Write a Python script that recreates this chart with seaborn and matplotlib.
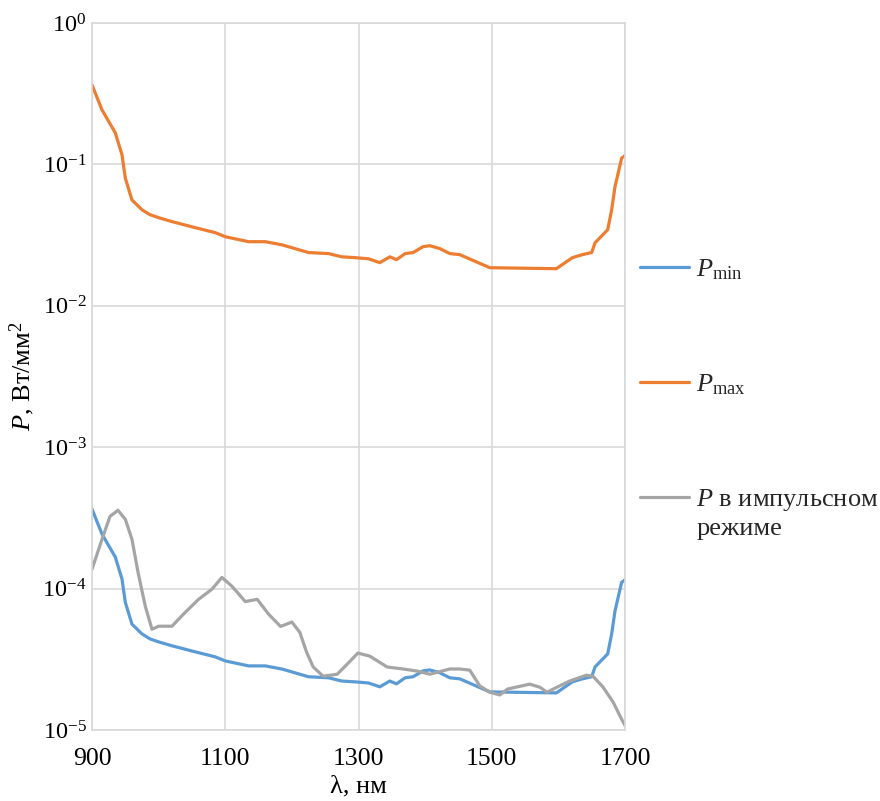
import numpy as np
import pandas as pd
import matplotlib
matplotlib.use("Agg")
import matplotlib.pyplot as plt
import seaborn as sns
from matplotlib.ticker import LogLocator, LogFormatterSciNotation, FixedLocator, NullLocator
from matplotlib.lines import Line2D
from matplotlib.legend_handler import HandlerLine2D

# ---- data ----
wl_max = [900, 915, 935, 945, 950, 960, 975, 987, 1000, 1020, 1050, 1085, 1100, 1135, 1160,
          1185, 1225, 1255, 1275, 1295, 1315, 1332, 1347, 1357, 1370, 1382, 1397, 1407, 1422,
          1437, 1452, 1497, 1597, 1621, 1636, 1650, 1655, 1674, 1680, 1685, 1695, 1700]
p_max = [0.365, 0.243, 0.167, 0.117, 0.080, 0.056, 0.0478, 0.0441, 0.0420, 0.0394, 0.0362,
         0.0329, 0.0308, 0.0284, 0.0284, 0.0270, 0.0238, 0.0234, 0.0222, 0.0219, 0.0215,
         0.0202, 0.0222, 0.0212, 0.0234, 0.0238, 0.0262, 0.0266, 0.0254, 0.0234, 0.0230,
         0.0186, 0.0183, 0.0219, 0.0230, 0.0238, 0.0279, 0.0345, 0.0478, 0.0695, 0.111, 0.115]

wl_min = wl_max
p_min = [3.65e-4, 2.43e-4, 1.67e-4, 1.17e-4, 8.0e-5, 5.6e-5, 4.78e-5, 4.41e-5, 4.20e-5,
         3.94e-5, 3.62e-5, 3.29e-5, 3.08e-5, 2.84e-5, 2.84e-5, 2.70e-5, 2.38e-5, 2.34e-5,
         2.22e-5, 2.19e-5, 2.15e-5, 2.02e-5, 2.22e-5, 2.12e-5, 2.34e-5, 2.38e-5, 2.62e-5,
         2.66e-5, 2.54e-5, 2.34e-5, 2.30e-5, 1.86e-5, 1.83e-5, 2.19e-5, 2.30e-5, 2.38e-5,
         2.79e-5, 3.45e-5, 4.78e-5, 6.95e-5, 1.11e-4, 1.15e-4]

wl_pulse = [900, 915, 927, 939, 950, 960, 969, 980, 990, 1000, 1020, 1040, 1060, 1080, 1095,
            1110, 1130, 1148, 1165, 1183, 1200, 1212, 1222, 1232, 1247, 1268, 1283, 1299, 1317,
            1343, 1367, 1388, 1407, 1437, 1452, 1467, 1482, 1497, 1512, 1524, 1557, 1572,
            1583, 1598, 1617, 1642, 1652, 1667, 1682, 1697, 1700]
p_pulse = [1.37e-4, 2.23e-4, 3.24e-4, 3.58e-4, 3.09e-4, 2.23e-4, 1.31e-4, 7.5e-5, 5.16e-5,
           5.42e-5, 5.42e-5, 6.8e-5, 8.4e-5, 9.9e-5, 1.2e-4, 1.04e-4, 8.1e-5, 8.4e-5, 6.6e-5,
           5.4e-5, 5.8e-5, 4.9e-5, 3.56e-5, 2.79e-5, 2.40e-5, 2.48e-5, 2.92e-5, 3.50e-5,
           3.33e-5, 2.79e-5, 2.70e-5, 2.61e-5, 2.48e-5, 2.70e-5, 2.70e-5, 2.65e-5, 2.05e-5,
           1.85e-5, 1.77e-5, 1.95e-5, 2.11e-5, 2.01e-5, 1.85e-5, 2.01e-5, 2.22e-5, 2.44e-5,
           2.40e-5, 2.01e-5, 1.58e-5, 1.14e-5, 1.08e-5]

series_labels = [r"$P_{\rm min}$", r"$P_{\rm max}$", "$P$ в импульсном\nрежиме"]
series_colors = ["#5B9BD5", "#ED7D31", "#A5A5A5"]
x_ticks = [900, 1100, 1300, 1500, 1700]

df = pd.concat([
    pd.DataFrame({"wl": wl_min, "P": p_min, "series": series_labels[0]}),
    pd.DataFrame({"wl": wl_max, "P": p_max, "series": series_labels[1]}),
    pd.DataFrame({"wl": wl_pulse, "P": p_pulse, "series": series_labels[2]}),
], ignore_index=True)

sns.set_theme(style="whitegrid")
plt.rcParams["font.family"] = ["Liberation Serif", "DejaVu Serif"]
plt.rcParams["mathtext.fontset"] = "custom"
plt.rcParams["mathtext.rm"] = "Liberation Serif"
plt.rcParams["mathtext.it"] = "Liberation Serif:italic"
plt.rcParams["mathtext.bf"] = "Liberation Serif:bold"

fig = plt.figure(figsize=(8.8, 8.01), dpi=100)
ax = fig.add_axes([92 / 880, 1 - 730 / 801, (625 - 92) / 880, (730 - 23) / 801])

sns.lineplot(data=df, x="wl", y="P", hue="series", palette=series_colors,
             hue_order=series_labels, linewidth=2.3, ax=ax, sort=False, legend=False)

ax.set_yscale("log")
ax.set_xlim(900, 1700)
ax.set_ylim(1e-5, 1)
ax.xaxis.set_major_locator(FixedLocator(x_ticks))
ax.yaxis.set_major_locator(LogLocator(base=10, numticks=10))
ax.yaxis.set_minor_locator(NullLocator())
ax.yaxis.set_major_formatter(LogFormatterSciNotation())
ax.tick_params(axis="x", labelsize=18.5, length=0, colors="black", pad=13)
ax.tick_params(axis="y", labelsize=17.5, length=0, colors="black", pad=4)
ax.set_facecolor("white")
ax.grid(True, color="#d9d9d9", linewidth=1.2)
for s in ax.spines.values():
    s.set_visible(True)
    s.set_color("#d9d9d9")
    s.set_linewidth(1.2)

ax.set_xlabel("λ, нм", fontsize=19, color="black", labelpad=4)
ax.set_ylabel("$P$, Вт/мм$^2$", fontsize=19, color="black")
ax.yaxis.set_label_coords(-0.103, 0.5)


class ShiftedLineHandler(HandlerLine2D):
    def __init__(self, dy=0.0, **kw):
        super().__init__(**kw)
        self.dy = dy

    def create_artists(self, legend, orig_handle, xdescent, ydescent, width, height,
                       fontsize, trans):
        arts = super().create_artists(legend, orig_handle, xdescent, ydescent, width,
                                      height, fontsize, trans)
        for a in arts:
            a.set_ydata(np.asarray(a.get_ydata(), dtype=float) + self.dy)
        return arts


handles = [Line2D([], [], color=c, linewidth=2.3) for c in series_colors]
leg = ax.legend(handles, series_labels, loc="upper left", bbox_to_anchor=(1.009, 0.683),
                frameon=False, fontsize=19, handlelength=1.85, handletextpad=0.27,
                labelspacing=3.42, borderaxespad=0,
                handler_map={handles[2]: ShiftedLineHandler(dy=11.5)})
leg.get_texts()[2].set_linespacing(1.28)

fig.savefig("out.png", dpi=100, facecolor="white")
